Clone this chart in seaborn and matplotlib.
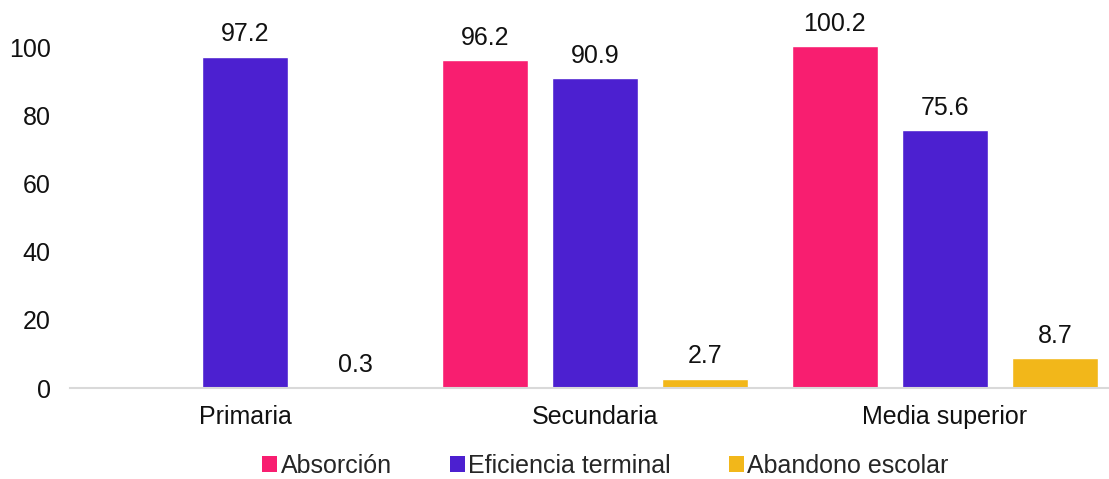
import numpy as np
import pandas as pd
import seaborn as sns
import matplotlib
matplotlib.use('Agg')
import matplotlib.pyplot as plt
from matplotlib.patches import Patch

# data
niveles = ['Primaria', 'Secundaria', 'Media superior']
series = ['Absorción', 'Eficiencia terminal', 'Abandono escolar']
absorcion = [np.nan, 96.2, 100.2]
eficiencia = [97.2, 90.9, 75.6]
abandono = [0.3, 2.7, 8.7]
colores = ['#F81E70', '#4C20D0', '#F2B71A']

df = pd.DataFrame({
    'nivel': niveles * 3,
    'serie': [s for s in series for _ in niveles],
    'valor': absorcion + eficiencia + abandono,
})

sns.set_theme(style='white')
plt.rcParams['font.family'] = ['Liberation Sans', 'DejaVu Sans']
fs = 18

fig = plt.figure(figsize=(11.09, 4.79), dpi=100)
ax = fig.add_axes([70 / 1109, 91 / 479, 1 - 70 / 1109, 375 / 479])

sns.barplot(data=df, x='nivel', y='valor', hue='serie', hue_order=series,
            palette=colores, width=0.943, gap=0.22, saturation=1,
            legend=False, ax=ax)

for cont in ax.containers:
    labels = ['' if np.isnan(v) else f'{v:.1f}' for v in cont.datavalues]
    ax.bar_label(cont, labels=labels, padding=7.5, fontsize=fs, color='#111111')

ax.set_ylim(0, 110)
ax.set_xlim(-0.5, 2.469)
ax.set_yticks(range(0, 101, 20))
ax.set_xlabel('')
ax.set_ylabel('')
for s in ['top', 'right', 'left']:
    ax.spines[s].set_visible(False)
ax.spines['bottom'].set_color('#D9D9D9')
ax.spines['bottom'].set_linewidth(1.5)
ax.tick_params(axis='both', labelsize=fs, colors='#111111', length=0)
ax.tick_params(axis='x', pad=12)
ax.tick_params(axis='y', pad=14)

handles = [Patch(facecolor=c, edgecolor='none') for c in colores]
fig.legend(handles, series, loc='center', bbox_to_anchor=(0.546, 1 - 466 / 479),
           ncol=3, frameon=False, fontsize=fs, handlelength=0.6, handleheight=0.6,
           handletextpad=0.15, columnspacing=2.3)

fig.savefig('out.png', dpi=100)
